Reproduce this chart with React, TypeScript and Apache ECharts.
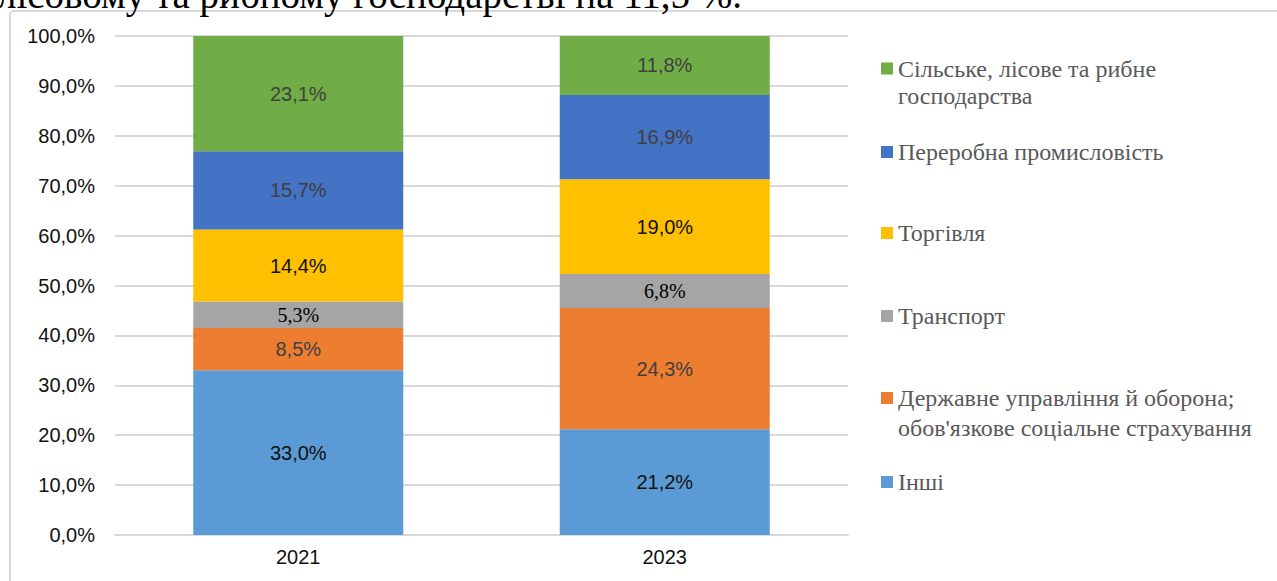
import React, { useEffect, useRef } from "react";
import * as echarts from "echarts";

const years = ["2021", "2023"];
const seriesNames = [
  "Інші",
  "Державне управління й оборона; обов'язкове соціальне страхування",
  "Транспорт",
  "Торгівля",
  "Переробна промисловість",
  "Сільське, лісове та рибне господарства",
];
const other = [33.0, 21.2];
const government = [8.5, 24.3];
const transport = [5.3, 6.8];
const trade = [14.4, 19.0];
const manufacturing = [15.7, 16.9];
const agriculture = [23.1, 11.8];
const yTicks = [0, 10, 20, 30, 40, 50, 60, 70, 80, 90, 100];
const topText = "лісовому та рибному господарстві на 11,5 %.";

const colors = ["#5B9BD5", "#ED7D31", "#A5A5A5", "#FFC000", "#4472C4", "#70AD47"];
const labelColors = ["#111111", "#404040", "#000000", "#111111", "#404040", "#404040"];
const SANS = '"Liberation Sans", Arial, sans-serif';
const SERIF = '"Liberation Serif", "Times New Roman", serif';
const labelFonts = [SANS, SANS, SERIF, SANS, SANS, SANS];

const fmt = (v: number) => v.toFixed(1).replace(".", ",") + "%";

export default function App() {
  const ref = useRef<HTMLDivElement>(null);
  useEffect(() => {
    if (!ref.current) return;
    const chart = echarts.init(ref.current, null, { renderer: "svg" });
    const values = [other, government, transport, trade, manufacturing, agriculture];
    const legendNames = [
      "Сільське, лісове та рибне\nгосподарства",
      "Переробна промисловість",
      "Торгівля",
      "Транспорт",
      "Державне управління й оборона;\nобов'язкове соціальне страхування",
      "Інші",
    ];
    const legendIdx = [5, 4, 3, 2, 1, 0];
    const legendTops = [55, 139, 220, 303, 383, 469];
    const legendLH = [27, 26, 26, 26, 30, 26];
    const legendIconH = [39, 12, 12, 12, 42, 12];
    const legends = legendIdx.map((si, k) => ({
      data: [seriesNames[si]],
      left: 881,
      top: legendTops[k],
      padding: 0,
      itemWidth: 12,
      itemHeight: legendIconH[k],
      icon: legendIconH[k] > 12 ? `path://M0,0L12,0L12,12L0,12Z M0,${legendIconH[k]}` : "rect",
      selectedMode: false,
      formatter: () => legendNames[k],
      textStyle: {
        fontFamily: SERIF,
        fontSize: 24,
        color: "#595959",
        lineHeight: legendLH[k],
      },
    }));
    chart.setOption({
      animation: false,
      backgroundColor: "#ffffff",
      legend: legends,
      grid: { left: 115, right: 429, top: 36, bottom: 46, containLabel: false },
      xAxis: {
        type: "category",
        data: years,
        axisLine: { show: true, lineStyle: { color: "#d9d9d9", width: 2 } },
        axisTick: { show: false },
        axisLabel: { color: "#111111", fontSize: 20, fontFamily: SANS, margin: 12 },
      },
      yAxis: {
        type: "value",
        min: yTicks[0],
        max: yTicks[yTicks.length - 1],
        interval: 10,
        axisLine: { show: false },
        axisTick: { show: false },
        splitLine: { lineStyle: { color: "#d9d9d9", width: 2 } },
        axisLabel: {
          color: "#111111",
          fontSize: 20,
          fontFamily: SANS,
          margin: 20,
          formatter: (v: number) => fmt(v),
        },
      },
      series: seriesNames.map((name, i) => ({
        name,
        type: "bar",
        stack: "total",
        barWidth: 210,
        data: values[i],
        itemStyle: { color: colors[i] },
        label: {
          show: true,
          position: "inside",
          formatter: (p: any) => fmt(p.value),
          color: labelColors[i],
          fontSize: 20,
          fontFamily: labelFonts[i],
        },
      })),
      graphic: [
        {
          type: "rect",
          z: -1,
          shape: { x: 10, y: 11, width: 1320, height: 620, r: 4 },
          style: { fill: "none", stroke: "#d9d9d9", lineWidth: 2 },
        },
        {
          type: "text",
          x: -3,
          y: -6,
          style: {
            text: topText,
            font: '39px "Liberation Serif"',
            fill: "#000000",
            verticalAlign: "middle",
            align: "left",
          },
        },
      ],
    });
    return () => chart.dispose();
  }, []);
  return (
    <div
      ref={ref}
      style={{ position: "absolute", left: 0, top: 0, width: 1277, height: 581 }}
    />
  );
}
